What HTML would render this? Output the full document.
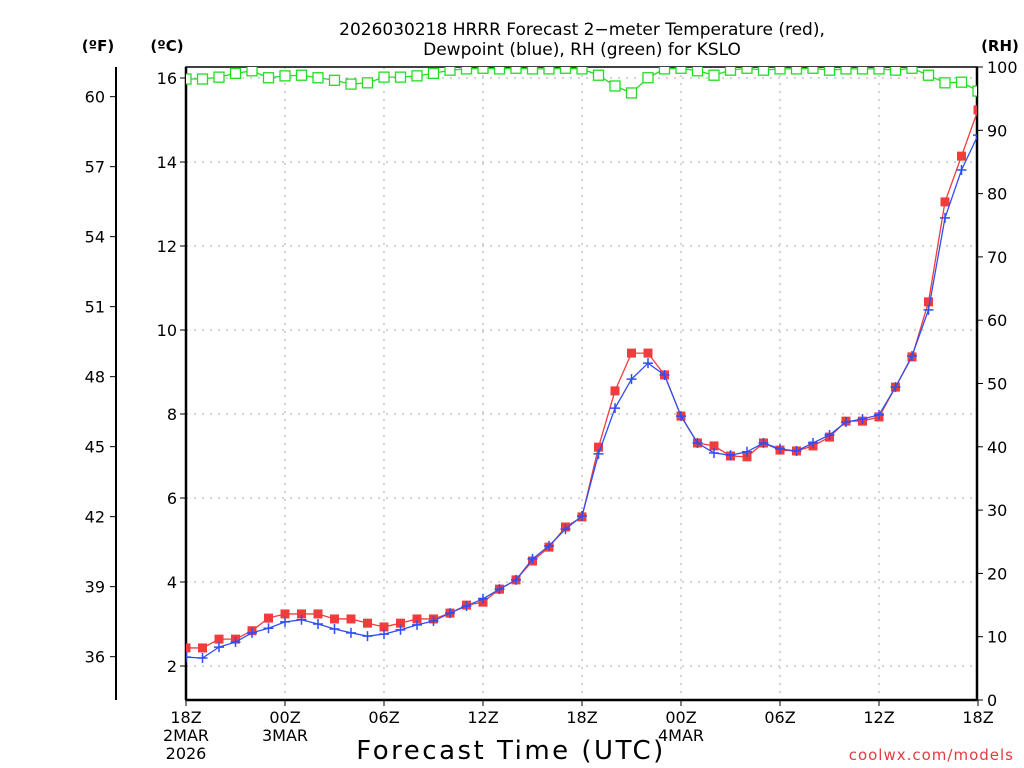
<!DOCTYPE html>
<html><head><meta charset="utf-8"><style>
body{margin:0;background:#fff;}
svg{display:block;font-family:"DejaVu Sans","Liberation Sans",sans-serif;}
</style></head><body>
<svg id="chart" width="1024" height="768" viewBox="0 0 1024 768">
<text x="582" y="35" font-size="17" text-anchor="middle">2026030218 HRRR Forecast 2−meter Temperature (red),</text>
<text x="582" y="55" font-size="17" text-anchor="middle">Dewpoint (blue), RH (green) for KSLO</text>
<text x="98" y="51" font-size="15" font-weight="bold" text-anchor="middle">(ºF)</text>
<text x="167" y="51" font-size="15" font-weight="bold" text-anchor="middle">(ºC)</text>
<text x="1000" y="51" font-size="15" font-weight="bold" text-anchor="middle">(RH)</text>
<text x="511" y="759" font-size="26" text-anchor="middle" letter-spacing="2.5">Forecast Time (UTC)</text>
<text x="1014" y="760" font-size="15" fill="#e8393f" text-anchor="end" letter-spacing="1">coolwx.com/models</text>
<defs><clipPath id="pc"><rect x="186" y="67" width="791" height="633"/></clipPath></defs>
<g id="grid"></g>
<g id="axes"></g>
<g id="series" clip-path="url(#pc)"></g>
</svg>
<script>
const hours=[];for(let i=0;i<=48;i++)hours.push(i);
const tempC=[2.43,2.43,2.64,2.64,2.84,3.14,3.24,3.24,3.24,3.12,3.12,3.02,2.93,3.02,3.12,3.12,3.26,3.45,3.52,3.83,4.05,4.5,4.83,5.31,5.55,7.21,8.55,9.45,9.45,8.93,7.95,7.31,7.24,7.0,6.98,7.31,7.14,7.12,7.24,7.45,7.83,7.83,7.93,8.64,9.36,10.67,13.05,14.14,15.24];
const dewC=[2.21,2.19,2.45,2.57,2.79,2.9,3.05,3.1,3.0,2.88,2.79,2.71,2.76,2.86,2.98,3.07,3.26,3.43,3.6,3.83,4.05,4.55,4.86,5.26,5.57,7.05,8.14,8.83,9.21,8.93,7.95,7.31,7.07,7.02,7.1,7.31,7.17,7.12,7.31,7.5,7.81,7.88,7.98,8.64,9.38,10.48,12.67,13.81,14.64];
const rh=[98.1,98.1,98.4,99,99.4,98.3,98.6,98.7,98.3,97.9,97.3,97.5,98.4,98.4,98.6,99,99.5,99.7,99.8,99.7,99.8,99.7,99.7,99.8,99.7,98.7,97,95.9,98.3,99.7,99.8,99.4,98.7,99.5,99.8,99.5,99.7,99.7,99.8,99.5,99.7,99.7,99.7,99.5,99.8,98.7,97.5,97.6,96.2];
const cTicks=[2,4,6,8,10,12,14,16];
const fTicks=[36,39,42,45,48,51,54,57,60];
const rhTicks=[0,10,20,30,40,50,60,70,80,90,100];
const xTickLabels=[["18Z","2MAR","2026"],["00Z","3MAR"],["06Z"],["12Z"],["18Z"],["00Z","4MAR"],["06Z"],["12Z"],["18Z"]];
const NS="http://www.w3.org/2000/svg";
const X=h=>186+h*16.5;
const YC=c=>78+(16-c)*42;
const YF=f=>YC((f-32)/1.8);
const YR=r=>700-r*6.33;
function mk(tag,attrs,parent,txt){const e=document.createElementNS(NS,tag);for(const k in attrs)e.setAttribute(k,attrs[k]);if(txt!==undefined)e.textContent=txt;parent.appendChild(e);return e;}
const grid=document.getElementById('grid'),axes=document.getElementById('axes'),ser=document.getElementById('series');
cTicks.forEach(c=>{const y=YC(c);
 const g=mk('line',{x1:186,x2:977,y1:y,y2:y,stroke:'#aaa','stroke-dasharray':'2,6'},grid);
 const t=mk('line',{x1:180,x2:186,y1:y,y2:y,stroke:'#000'},axes);
 const l=mk('text',{x:177,y:y+6,'font-size':16,'text-anchor':'end'},axes,String(c));});
xTickLabels.forEach((lab,i)=>{const x=X(i*6);
 if(i>0&&i<8){const g=mk('line',{x1:x,x2:x,y1:67,y2:700,stroke:'#aaa','stroke-dasharray':'2,6'},grid);}
 const t=mk('line',{x1:x,x2:x,y1:700,y2:706,stroke:'#000'},axes);
 lab.forEach((s,j)=>{const l=mk('text',{x:x,y:723+j*18,'font-size':16,'text-anchor':'middle'},axes,s);});});
fTicks.forEach(f=>{const y=YF(f);
 const t=mk('line',{x1:110,x2:116,y1:y,y2:y,stroke:'#000'},axes);
 const l=mk('text',{x:105,y:y+6,'font-size':16,'text-anchor':'end'},axes,String(f));});
rhTicks.forEach(r=>{const y=YR(r);
 const t=mk('line',{x1:977,x2:983,y1:y,y2:y,stroke:'#000'},axes);
 const l=mk('text',{x:987,y:y+6,'font-size':16},axes,String(r));});
let e;
e=mk('rect',{x:186,y:67,width:791,height:633,fill:'none',stroke:'#000','stroke-width':1.5},axes);
e=mk('line',{x1:186,x2:186,y1:67,y2:700,stroke:'#000','stroke-width':2.5},axes);
e=mk('line',{x1:186,x2:977,y1:700,y2:700,stroke:'#000','stroke-width':2.5},axes);
e=mk('line',{x1:977,x2:977,y1:67,y2:700,stroke:'#000','stroke-width':2.5},axes);
e=mk('line',{x1:116,x2:116,y1:67,y2:700,stroke:'#000','stroke-width':2},axes);
function pts(arr,fy){return arr.map((v,i)=>X(hours[i])+','+fy(v)).join(' ');}
e=mk('polyline',{points:pts(rh,YR),fill:'none',stroke:'#22dd22','stroke-width':1.3},ser);
rh.forEach((v,i)=>{const m=mk('rect',{x:X(hours[i])-5,y:YR(v)-5,width:10,height:10,fill:'#fff',stroke:'#22dd22','stroke-width':1.3},ser);});
e=mk('polyline',{points:pts(tempC,YC),fill:'none',stroke:'#f03c3c','stroke-width':1.3},ser);
tempC.forEach((v,i)=>{const m=mk('rect',{x:X(hours[i])-4.5,y:YC(v)-4.5,width:9,height:9,fill:'#f03c3c'},ser);});
e=mk('polyline',{points:pts(dewC,YC),fill:'none',stroke:'#2f4ef5','stroke-width':1.3},ser);
dewC.forEach((v,i)=>{const x=X(hours[i]),y=YC(v);const m=mk('path',{d:`M${x-5},${y}H${x+5}M${x},${y-5}V${y+5}`,stroke:'#2f4ef5','stroke-width':1.5},ser);});
</script>
</body></html>
